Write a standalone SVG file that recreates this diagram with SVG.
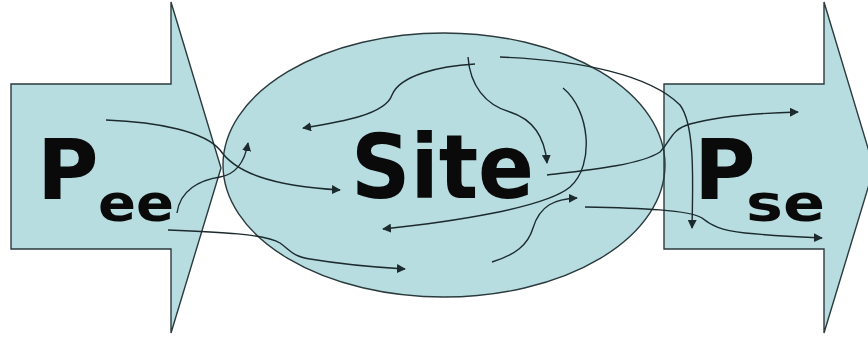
<svg xmlns="http://www.w3.org/2000/svg" width="868" height="338" viewBox="0 0 868 338">
  <style>
    .fill { fill: #b7dde1; stroke: none; }
    .outline { fill: none; stroke: #2b3a3d; stroke-width: 1.4; }
    .conn { fill: none; stroke: #1c2a2d; stroke-width: 1.4; }
    .lbl { font-family: "DejaVu Sans", Verdana, sans-serif; font-weight: bold; fill: #0a0a0a; }
  </style>
  <defs>
    <marker id="ah" viewBox="0 0 10 10" refX="9" refY="5" markerWidth="9" markerHeight="9" markerUnits="userSpaceOnUse" orient="auto">
      <path d="M0,0 L10,5 L0,10 Z" fill="#1c2a2d"/>
    </marker>
    <path id="peeShape" d="M11,84 L171,84 L171,2 L221,168 L171,333 L171,249 L11,249 Z"/>
    <path id="pseShape" d="M664,84 L824,84 L824,2 L874,168 L824,333 L824,249 L664,249 Z"/>
    <ellipse id="siteShape" cx="444" cy="165" rx="221" ry="132"/>
  </defs>
  <rect width="868" height="338" fill="#ffffff"/>

  <g id="fills">
    <use href="#peeShape" class="fill"/>
    <use href="#siteShape" class="fill"/>
    <use href="#pseShape" class="fill"/>
  </g>

  <g id="pee">
    <use href="#peeShape" class="outline"/>
    <text class="lbl" x="37" y="199" font-size="84">P</text>
    <text class="lbl" x="98" y="221" font-size="51" textLength="76" lengthAdjust="spacingAndGlyphs">ee</text>
  </g>
  <g id="site">
    <use href="#siteShape" class="outline"/>
    <text class="lbl" x="351" y="198" font-size="89" textLength="183" lengthAdjust="spacingAndGlyphs">Site</text>
  </g>
  <g id="pse">
    <use href="#pseShape" class="outline"/>
    <text class="lbl" x="694" y="199" font-size="84">P</text>
    <text class="lbl" x="746" y="221" font-size="51" textLength="79" lengthAdjust="spacingAndGlyphs">se</text>
  </g>

  <g id="connectors">
    <path class="conn" marker-end="url(#ah)" d="M106,120 C160,122 205,132 220,150 C235,172 270,186 340,190"/>
    <path class="conn" marker-end="url(#ah)" d="M177,213 C180,190 200,180 220,177 C238,174 245,160 248,143"/>
    <path class="conn" marker-end="url(#ah)" d="M168,230 C220,232 265,234 280,243 C290,250 292,256 310,259 C340,264 370,267 405,269"/>
    <path class="conn" marker-end="url(#ah)" d="M475,64 C440,66 400,75 392,95 C385,115 340,122 303,128"/>
    <path class="conn" marker-end="url(#ah)" d="M468,57 C470,85 485,105 510,112 C535,120 545,140 547,163"/>
    <path class="conn" marker-end="url(#ah)" d="M500,57 C580,60 650,75 680,105 C695,125 693,180 692,228"/>
    <path class="conn" marker-end="url(#ah)" d="M563,88 C590,110 595,165 570,187 C545,208 450,222 383,229"/>
    <path class="conn" marker-end="url(#ah)" d="M547,175 C590,170 640,165 660,152 C672,140 670,130 690,124 C720,116 760,113 798,112"/>
    <path class="conn" marker-end="url(#ah)" d="M492,262 C515,255 528,245 533,228 C540,205 555,199 577,198"/>
    <path class="conn" marker-end="url(#ah)" d="M585,207 C640,208 690,210 702,218 C712,226 720,230 745,233 C775,236 800,237 822,238"/>
  </g>
</svg>
